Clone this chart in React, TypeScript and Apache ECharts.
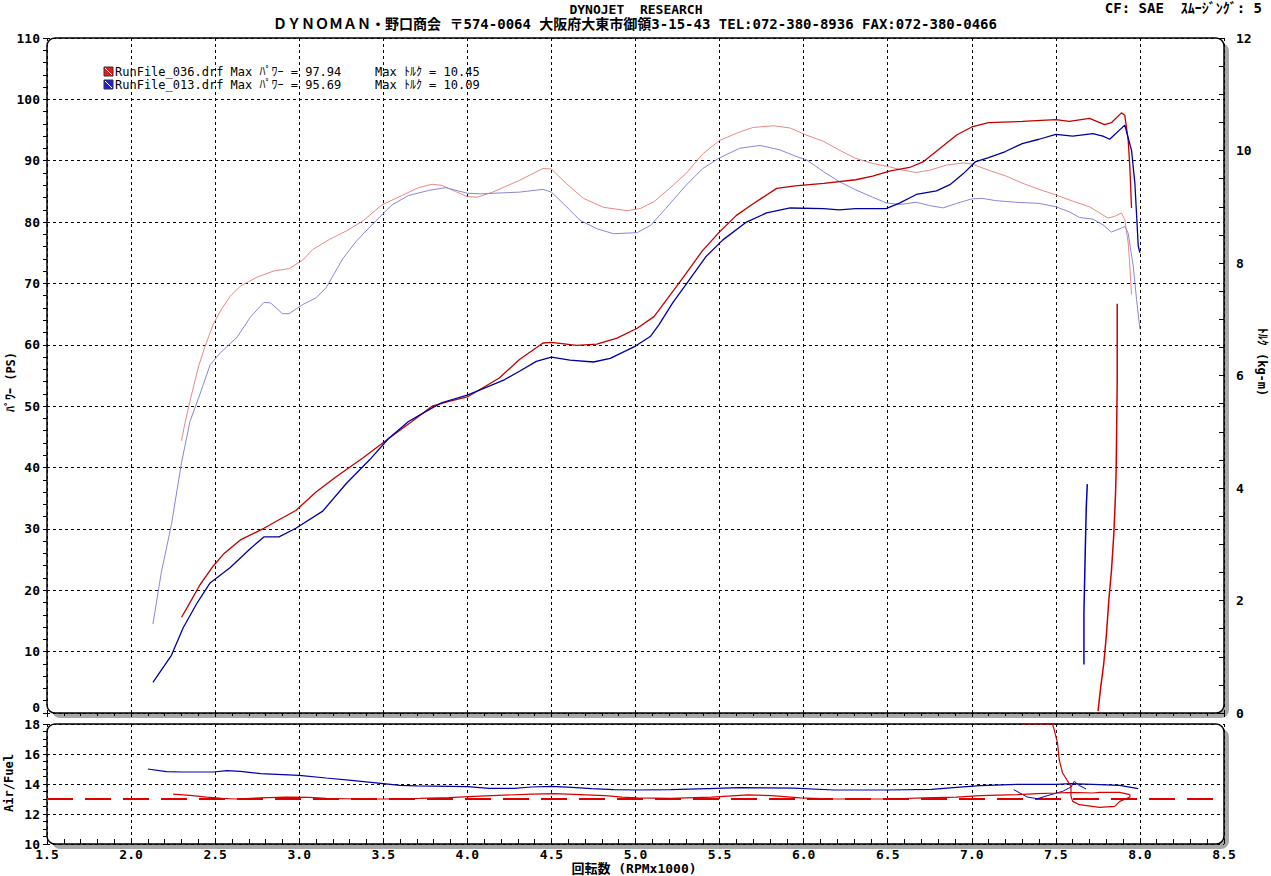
import React, { useEffect, useRef } from "react";
import * as echarts from "echarts";

// ---------- data (rpm x1000, value) ----------
const redPower: number[][] = [
  [2.30, 15.6], [2.33, 17.0], [2.41, 20.9], [2.49, 24.0], [2.55, 25.9], [2.65, 28.2], [2.79, 30.1],
  [2.88, 31.5], [2.98, 33.0], [3.10, 36.0], [3.22, 38.5], [3.38, 41.6], [3.53, 44.7], [3.67, 47.5],
  [3.79, 50.0], [3.89, 50.8], [4.00, 51.5], [4.19, 54.6], [4.31, 57.6], [4.45, 60.3], [4.50, 60.4],
  [4.65, 59.9], [4.77, 60.1], [4.89, 61.1], [5.01, 62.7], [5.11, 64.6], [5.20, 67.9], [5.30, 71.6],
  [5.40, 75.4], [5.50, 78.4], [5.60, 81.1], [5.70, 83.0], [5.84, 85.5], [5.95, 85.9], [6.12, 86.3],
  [6.31, 86.9], [6.41, 87.5], [6.51, 88.3], [6.63, 88.9], [6.71, 89.8], [6.81, 92.0], [6.91, 94.2],
  [7.00, 95.5], [7.10, 96.2], [7.30, 96.4], [7.50, 96.7], [7.58, 96.4], [7.70, 96.9], [7.79, 95.9],
  [7.83, 96.2], [7.89, 97.8], [7.91, 97.4], [7.93, 93.4], [7.94, 89.0], [7.95, 82.3],
];
const bluePower: number[][] = [
  [2.13, 5.0], [2.24, 9.4], [2.31, 13.9], [2.39, 17.8], [2.47, 21.2], [2.59, 23.7], [2.71, 26.8],
  [2.79, 28.7], [2.88, 28.7], [2.98, 30.1], [3.14, 32.9], [3.28, 37.4], [3.42, 41.3], [3.53, 44.7],
  [3.65, 47.5], [3.77, 49.4], [3.85, 50.6], [4.00, 51.8], [4.22, 54.3], [4.31, 55.7], [4.41, 57.3],
  [4.50, 58.0], [4.61, 57.5], [4.75, 57.2], [4.85, 57.8], [5.00, 59.8], [5.09, 61.4], [5.14, 63.3],
  [5.22, 66.8], [5.32, 70.6], [5.42, 74.4], [5.52, 77.1], [5.66, 80.0], [5.78, 81.5], [5.92, 82.3],
  [6.12, 82.2], [6.21, 82.0], [6.31, 82.2], [6.49, 82.2], [6.57, 83.1], [6.67, 84.5], [6.79, 85.1],
  [6.87, 86.1], [6.95, 87.9], [7.02, 89.8], [7.10, 90.5], [7.20, 91.5], [7.30, 92.8], [7.40, 93.5],
  [7.50, 94.3], [7.60, 94.0], [7.72, 94.4], [7.78, 94.0], [7.82, 93.5], [7.91, 95.8], [7.95, 91.7],
  [7.97, 86.3], [7.99, 76.1], [8.00, 75.0],
];
const redTorque: number[][] = [
  [2.30, 4.84], [2.32, 5.15], [2.35, 5.54], [2.40, 6.15], [2.44, 6.52], [2.49, 6.92], [2.54, 7.19],
  [2.59, 7.41], [2.65, 7.59], [2.75, 7.75], [2.85, 7.86], [2.94, 7.90], [3.02, 8.05], [3.08, 8.24],
  [3.18, 8.42], [3.28, 8.57], [3.38, 8.75], [3.49, 9.03], [3.61, 9.20], [3.71, 9.34], [3.79, 9.40],
  [3.85, 9.38], [3.93, 9.27], [4.00, 9.18], [4.06, 9.17], [4.15, 9.26], [4.31, 9.47], [4.45, 9.68],
  [4.50, 9.67], [4.59, 9.41], [4.69, 9.15], [4.81, 8.99], [4.95, 8.93], [5.03, 8.97], [5.11, 9.09],
  [5.20, 9.32], [5.30, 9.59], [5.40, 9.94], [5.50, 10.18], [5.62, 10.33], [5.70, 10.41], [5.82, 10.44],
  [5.92, 10.40], [6.02, 10.27], [6.12, 10.16], [6.21, 10.01], [6.31, 9.86], [6.41, 9.77], [6.51, 9.71],
  [6.59, 9.65], [6.67, 9.61], [6.75, 9.65], [6.85, 9.74], [6.95, 9.78], [7.00, 9.76], [7.10, 9.65],
  [7.20, 9.55], [7.30, 9.42], [7.40, 9.31], [7.50, 9.21], [7.60, 9.10], [7.70, 9.00], [7.76, 8.89],
  [7.81, 8.80], [7.85, 8.83], [7.89, 8.89], [7.91, 8.77], [7.93, 8.36], [7.94, 7.95], [7.95, 7.44],
];
const blueTorque: number[][] = [
  [2.13, 1.58], [2.18, 2.50], [2.24, 3.35], [2.30, 4.45], [2.35, 5.18], [2.41, 5.67], [2.47, 6.19],
  [2.53, 6.40], [2.63, 6.68], [2.71, 7.04], [2.79, 7.30], [2.83, 7.29], [2.90, 7.10], [2.94, 7.10],
  [3.02, 7.26], [3.10, 7.38], [3.16, 7.56], [3.26, 8.08], [3.34, 8.39], [3.43, 8.67], [3.55, 9.03],
  [3.65, 9.20], [3.77, 9.29], [3.87, 9.34], [4.00, 9.24], [4.08, 9.23], [4.31, 9.26], [4.45, 9.31],
  [4.50, 9.26], [4.57, 9.06], [4.67, 8.76], [4.77, 8.61], [4.87, 8.52], [5.01, 8.54], [5.09, 8.67],
  [5.18, 8.97], [5.30, 9.38], [5.40, 9.68], [5.50, 9.87], [5.62, 10.04], [5.74, 10.09], [5.86, 10.01],
  [5.95, 9.90], [6.02, 9.83], [6.12, 9.62], [6.21, 9.45], [6.31, 9.30], [6.41, 9.17], [6.49, 9.07],
  [6.57, 9.04], [6.67, 9.08], [6.75, 9.02], [6.83, 8.98], [6.91, 9.06], [7.00, 9.14], [7.06, 9.15],
  [7.14, 9.11], [7.26, 9.08], [7.40, 9.06], [7.50, 9.00], [7.58, 8.91], [7.64, 8.81], [7.72, 8.78],
  [7.78, 8.68], [7.83, 8.55], [7.89, 8.62], [7.91, 8.65], [7.93, 8.53], [7.96, 7.95], [7.98, 7.35],
  [8.00, 6.82],
];
const redSpike: number[][] = [
  [7.751, 0.3], [7.765, 3.8], [7.785, 8.1], [7.80, 12.5], [7.815, 18.4], [7.831, 23.3], [7.845, 29.3],
  [7.855, 35.8], [7.859, 40.2], [7.861, 45.0], [7.865, 54.3], [7.865, 66.7],
];
const blueSpike: number[][] = [
  [7.667, 7.9], [7.667, 16.3], [7.675, 26.6], [7.681, 33.6], [7.687, 37.3],
];
const redAfr: number[][] = [
  [2.25, 13.33], [2.35, 13.24], [2.45, 13.13], [2.54, 13.04], [2.62, 13.0], [2.77, 13.07], [2.92, 13.13],
  [3.06, 13.11], [3.16, 13.04], [3.35, 13.0], [3.55, 13.0], [3.72, 13.04], [3.89, 13.09], [4.04, 13.18],
  [4.18, 13.24], [4.38, 13.33], [4.52, 13.36], [4.67, 13.29], [4.82, 13.22], [4.92, 13.13], [5.01, 13.07],
  [5.21, 13.04], [5.45, 13.13], [5.67, 13.27], [5.81, 13.22], [5.98, 13.07], [6.18, 13.0], [6.52, 13.0],
  [6.71, 13.07], [6.91, 13.13], [7.05, 13.22], [7.27, 13.29], [7.39, 13.36], [7.51, 13.4], [7.59, 13.44],
  [7.72, 13.4], [7.76, 13.44], [7.88, 13.44], [7.94, 13.29], [7.94, 13.13], [7.88, 12.84], [7.85, 12.51],
  [7.76, 12.44], [7.64, 12.62], [7.60, 12.84], [7.59, 13.18], [7.59, 13.84], [7.54, 14.73], [7.52, 15.62],
  [7.51, 16.73], [7.49, 17.62], [7.48, 18.0], [7.30, 18.0],
];
const blueAfr: number[][] = [
  [2.10, 15.0], [2.21, 14.82], [2.30, 14.8], [2.49, 14.8], [2.57, 14.89], [2.65, 14.84], [2.77, 14.69],
  [3.00, 14.58], [3.16, 14.4], [3.31, 14.24], [3.50, 14.02], [3.60, 13.91], [3.70, 13.87], [4.00, 13.82],
  [4.13, 13.71], [4.28, 13.71], [4.38, 13.8], [4.50, 13.84], [4.62, 13.78], [4.74, 13.69], [4.87, 13.62],
  [5.01, 13.6], [5.21, 13.62], [5.43, 13.69], [5.62, 13.76], [5.94, 13.73], [6.18, 13.6], [6.49, 13.6],
  [6.76, 13.64], [6.91, 13.78], [7.05, 13.89], [7.27, 13.98], [7.50, 13.98], [7.59, 14.02], [7.76, 13.96],
  [7.88, 13.91], [7.99, 13.69],
];
const blueAfrTail: number[][] = [
  [7.25, 13.62], [7.33, 13.13], [7.39, 13.02], [7.47, 13.29], [7.54, 13.51], [7.59, 13.8], [7.61, 14.18],
  [7.64, 13.89], [7.68, 13.67],
];
const afrTarget = 13;
const rpmRange = [1.5, 8.5];

const runNames = ["RunFile_036.drf", "RunFile_013.drf"];
const maxPower = ["97.94", "95.69"];
const maxTorque = ["10.45", "10.09"];
const runColors = ["#e02020", "#2020e0"];

const MONO = "'DejaVu Sans Mono', 'Noto Sans CJK JP', monospace";

export default function App() {
  const ref = useRef<HTMLDivElement>(null);
  useEffect(() => {
    if (!ref.current) return;
    const chart = echarts.init(ref.current, undefined, { renderer: "svg" });
    const L = 47, R = 1224, T1 = 38, B1 = 713, T2 = 724, B2 = 844;
    const W = R - L;
    const lbl = { fontFamily: MONO, fontWeight: "bold" as const, fontSize: 13, color: "#000" };
    const split = { show: true, lineStyle: { color: "#000", width: 1, type: [3, 3] as any } };

    const line = (data: number[][], color: string, width: number, xi: number, yi: number, extra: any = {}) => ({
      type: "line", data, xAxisIndex: xi, yAxisIndex: yi, showSymbol: false, symbol: "none",
      lineStyle: { color, width, ...extra }, silent: true, z: 3,
    });

    const legendGraphics: any[] = [];
    runNames.forEach((n, i) => {
      const y = 72 + i * 13;
      legendGraphics.push({ type: "rect", shape: { x: 104, y: y - 5, width: 9, height: 9 },
        style: { fill: runColors[i], stroke: "#333", lineWidth: 1 }, z: 5 });
      legendGraphics.push({ type: "line", shape: { x1: 105, y1: y - 4, x2: 112, y2: y + 3 },
        style: { stroke: "#fff", lineWidth: 1 }, z: 6 });
      legendGraphics.push({ type: "text", x: 115, y, style: { text: `${n} Max ﾊﾟﾜｰ = ${maxPower[i]}`,
        font: `12px ${MONO}`, fill: "#000", verticalAlign: "middle" }, z: 5 });
      legendGraphics.push({ type: "text", x: 375, y, style: { text: `Max ﾄﾙｸ = ${maxTorque[i]}`,
        font: `12px ${MONO}`, fill: "#000", verticalAlign: "middle" }, z: 5 });
    });

    const option: any = {
      animation: false,
      backgroundColor: "#fff",
      grid: [
        { left: L, top: T1, width: W, height: B1 - T1 },
        { left: L, top: T2, width: W, height: B2 - T2 },
      ],
      xAxis: [
        { gridIndex: 0, type: "value", min: rpmRange[0], max: rpmRange[1], interval: 0.5,
          axisLine: { show: false }, axisLabel: { show: false },
          axisTick: { show: true, inside: false, length: 4, lineStyle: { color: "#000" } },
          minorTick: { show: true, splitNumber: 5, length: 3, lineStyle: { color: "#000" } },
          splitLine: split },
        { gridIndex: 1, type: "value", min: rpmRange[0], max: rpmRange[1], interval: 0.5,
          axisLine: { show: false },
          axisLabel: { ...lbl, margin: 4, formatter: (v: number) => v.toFixed(1) },
          axisTick: { show: true, inside: true, length: 5, lineStyle: { color: "#000" } },
          minorTick: { show: true, splitNumber: 5, length: 5, lineStyle: { color: "#000" } },
          splitLine: split },
      ],
      yAxis: [
        { gridIndex: 0, type: "value", min: 0, max: 110, interval: 10, position: "left",
          axisLine: { show: false }, axisLabel: { ...lbl, margin: 7, showMinLabel: false },
          axisTick: { show: true, inside: false, length: 4, lineStyle: { color: "#000" } },
          minorTick: { show: true, splitNumber: 5, length: 4, lineStyle: { color: "#000" } },
          splitLine: split },
        { gridIndex: 0, type: "value", min: 0, max: 12, interval: 2, position: "right",
          axisLine: { show: false }, axisLabel: { ...lbl, margin: 12 },
          axisTick: { show: true, inside: true, length: 5, lineStyle: { color: "#000" } },
          minorTick: { show: true, splitNumber: 4, length: 5, lineStyle: { color: "#000" } },
          splitLine: { show: false } },
        { gridIndex: 1, type: "value", min: 10, max: 18, interval: 2, position: "left",
          axisLine: { show: false }, axisLabel: { ...lbl, margin: 7 },
          axisTick: { show: true, inside: false, length: 4, lineStyle: { color: "#000" } },
          minorTick: { show: true, splitNumber: 4, length: 4, lineStyle: { color: "#000" } },
          splitLine: split },
      ],
      series: [
        line(redTorque, "#e88888", 1, 0, 1),
        line(blueTorque, "#8888d8", 1, 0, 1),
        line(redPower, "#c00000", 1.3, 0, 0),
        line(bluePower, "#0000a0", 1.3, 0, 0),
        line(redSpike, "#d00000", 1.5, 0, 0),
        line(blueSpike, "#0000c0", 1.5, 0, 0),
        line([[rpmRange[0], afrTarget], [rpmRange[1], afrTarget]], "#e00000", 2, 1, 2, { type: [26, 12] }),
        line(blueAfr, "#0000a8", 1.2, 1, 2),
        line(blueAfrTail, "#0000c0", 1, 1, 2),
        line(redAfr, "#d80000", 1.2, 1, 2),
      ],
      graphic: [
        { type: "rect", shape: { x: L + 5, y: T1 + 5, width: W, height: B1 - T1, r: 8 },
          style: { fill: "#a8a8a8" }, z: -20, silent: true },
        { type: "rect", shape: { x: L, y: T1, width: W, height: B1 - T1, r: 8 },
          style: { fill: "#fff", stroke: "#000", lineWidth: 1.5 }, z: -10, silent: true },
        { type: "rect", shape: { x: L + 5, y: T2 + 5, width: W, height: B2 - T2, r: 8 },
          style: { fill: "#a8a8a8" }, z: -20, silent: true },
        { type: "rect", shape: { x: L, y: T2, width: W, height: B2 - T2, r: 8 },
          style: { fill: "#fff", stroke: "#000", lineWidth: 1.5 }, z: -10, silent: true },
        { type: "text", x: 40, y: 707, style: { text: "0", font: `bold 13px ${MONO}`,
          fill: "#000", align: "right", verticalAlign: "middle" } },
        { type: "text", x: 636, y: 9, style: { text: "DYNOJET  RESEARCH", font: `bold 13px ${MONO}`,
          fill: "#000", align: "center", verticalAlign: "middle" } },
        { type: "text", x: 635, y: 24, style: { text: "ＤＹＮＯＭＡＮ・野口商会 〒574-0064 大阪府大東市御領3-15-43 TEL:072-380-8936 FAX:072-380-0466",
          font: `bold 14px ${MONO}`, fill: "#000", align: "center", verticalAlign: "middle" } },
        { type: "text", x: 1262, y: 8, style: { text: "CF: SAE  ｽﾑｰｼﾞﾝｸﾞ: 5", font: `bold 14px ${MONO}`,
          fill: "#000", align: "right", verticalAlign: "middle" } },
        { type: "text", x: 11, y: 382, rotation: Math.PI / 2, style: { text: "ﾊﾟﾜｰ (PS)", font: `bold 12px ${MONO}`,
          fill: "#000", align: "center", verticalAlign: "middle" } },
        { type: "text", x: 1262, y: 362, rotation: -Math.PI / 2, style: { text: "ﾄﾙｸ (kg-m)", font: `bold 12px ${MONO}`,
          fill: "#000", align: "center", verticalAlign: "middle" } },
        { type: "text", x: 9, y: 783, rotation: Math.PI / 2, style: { text: "Air/Fuel", font: `bold 12px ${MONO}`,
          fill: "#000", align: "center", verticalAlign: "middle" } },
        { type: "text", x: 634, y: 868, style: { text: "回転数 (RPMx1000)", font: `bold 13px ${MONO}`,
          fill: "#000", align: "center", verticalAlign: "middle" } },
        ...legendGraphics,
      ],
    };
    chart.setOption(option);
    return () => chart.dispose();
  }, []);
  return (
    <div ref={ref} style={{ position: "fixed", left: 0, top: 0, width: 1271, height: 876, background: "#fff" }} />
  );
}
